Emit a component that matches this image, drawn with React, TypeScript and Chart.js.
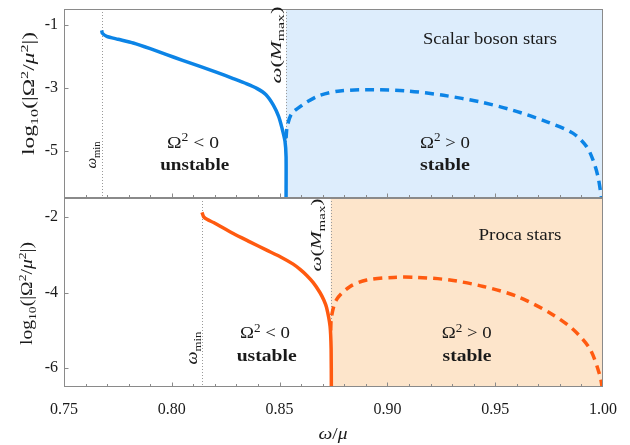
import React, { useEffect, useRef } from "react";
import { Chart, registerables } from "chart.js";

Chart.register(...registerables);

const FONT = "'Liberation Serif', 'DejaVu Serif', serif";

// axes
const xRange = [0.75, 1.0];
const xTickValues = [0.75, 0.8, 0.85, 0.9, 0.95, 1.0];
const xMinorStep = 0.01;
const topRange = [-6.5, -0.5];
const bottomRange = [-6.5, -1.5];
const topYTicks = [-1, -3, -5];
const bottomYTicks = [-2, -4, -6];

// Scalar boson stars: log10(|Omega^2/mu^2|) vs omega/mu
const scalarUnstableW = [0.7675, 0.7678, 0.7698, 0.775, 0.7821, 0.79, 0.7976, 0.805, 0.8131, 0.8209, 0.8285, 0.8345, 0.8394, 0.8437, 0.8471, 0.8495, 0.851, 0.8525, 0.853, 0.853];
const scalarUnstableLog = [-1.18, -1.27, -1.37, -1.46, -1.58, -1.76, -1.95, -2.13, -2.32, -2.51, -2.71, -2.87, -3.02, -3.22, -3.55, -3.9, -4.25, -4.7, -5.2, -6.5];
const scalarStableW = [0.853, 0.8535, 0.8556, 0.8595, 0.8626, 0.8687, 0.878, 0.8933, 0.909, 0.926, 0.943, 0.958, 0.974, 0.986, 0.9924, 0.9954, 0.9977, 0.9993];
const scalarStableLog = [-4.6, -4.24, -3.82, -3.6, -3.45, -3.24, -3.1, -3.06, -3.1, -3.24, -3.45, -3.71, -4.08, -4.44, -4.87, -5.3, -5.83, -6.5];

// Proca stars
const procaUnstableW = [0.814, 0.8148, 0.8165, 0.8194, 0.8285, 0.8362, 0.844, 0.8505, 0.8563, 0.8595, 0.8626, 0.8656, 0.8687, 0.8705, 0.8718, 0.8734, 0.8739, 0.874];
const procaUnstableLog = [-1.88, -2.0, -2.07, -2.15, -2.44, -2.66, -2.88, -3.06, -3.25, -3.39, -3.55, -3.74, -4.0, -4.2, -4.4, -4.89, -5.5, -6.5];
const procaStableW = [0.8737, 0.8741, 0.8764, 0.8827, 0.8904, 0.9028, 0.9136, 0.929, 0.9445, 0.96, 0.9754, 0.9862, 0.994, 0.9986, 0.9996];
const procaStableLog = [-5.0, -4.63, -4.19, -3.84, -3.67, -3.6, -3.6, -3.67, -3.84, -4.1, -4.54, -4.98, -5.5, -6.2, -6.5];

// markers: [scalar, proca]
const omegaMin = [0.7675, 0.814];
const omegaMmax = [0.853, 0.8737];

const BLUE = "#0c84e6";
const ORANGE = "#ff5a10";
const BLUE_FILL = "#ddedfc";
const ORANGE_FILL = "#fde5cb";
const FRAME = "#8a8a8a";
const TEXT = "#1a1a1a";

const pts = (w: number[], l: number[]) => w.map((x, i) => ({ x, y: l[i] }));

type Part = { t: string; s?: number; dy?: number; it?: boolean; b?: boolean };

function fontOf(p: Part, size: number) {
  return `${p.it ? "italic " : ""}${p.b ? "bold " : ""}${(size * (p.s || 1)).toFixed(2)}px ${FONT}`;
}

function drawRich(
  ctx: CanvasRenderingContext2D,
  parts: Part[],
  x: number,
  y: number,
  size: number,
  width?: number,
  angle = 0
) {
  ctx.save();
  ctx.translate(x, y);
  if (angle) ctx.rotate(angle);
  let total = 0;
  const ws = parts.map((p) => {
    ctx.font = fontOf(p, size);
    const w = ctx.measureText(p.t).width;
    total += w;
    return w;
  });
  const sx = width ? width / total : 1;
  ctx.scale(sx, 1);
  ctx.textBaseline = "alphabetic";
  ctx.textAlign = "left";
  ctx.fillStyle = TEXT;
  let cx = -total / 2;
  parts.forEach((p, i) => {
    ctx.font = fontOf(p, size);
    ctx.fillText(p.t, cx, (p.dy || 0) * size);
    cx += ws[i];
  });
  ctx.restore();
}

const sq: Part = { t: "2", s: 0.7, dy: -0.4 };
const yTitleParts: Part[] = [
  { t: "log" },
  { t: "10", s: 0.7, dy: 0.25 },
  { t: "(|Ω" },
  sq,
  { t: "/" },
  { t: "μ", it: true },
  sq,
  { t: "|)" },
];
const omegaMinParts: Part[] = [{ t: "ω", it: true }, { t: "min", s: 0.7, dy: 0.25 }];
const omegaMmaxParts: Part[] = [
  { t: "ω", it: true },
  { t: "(" },
  { t: "M", it: true },
  { t: "max", s: 0.7, dy: 0.25 },
  { t: ")" },
];
const negParts: Part[] = [{ t: "Ω" }, sq, { t: " < 0" }];
const posParts: Part[] = [{ t: "Ω" }, sq, { t: " > 0" }];
const xTitleParts: Part[] = [{ t: "ω", it: true }, { t: "/" }, { t: "μ", it: true }];

const panelsPlugin = {
  id: "panels",
  beforeDatasetsDraw(chart: any) {
    const { ctx, scales } = chart;
    const x = scales.x;
    const panels = [
      { y: scales.yTop, fill: BLUE_FILL, i: 0 },
      { y: scales.yBot, fill: ORANGE_FILL, i: 1 },
    ];
    ctx.save();
    panels.forEach(({ y, fill, i }) => {
      const x0 = x.getPixelForValue(omegaMmax[i]);
      const x1 = x.getPixelForValue(xRange[1]);
      ctx.fillStyle = fill;
      ctx.fillRect(x0, y.top, x1 - x0, y.bottom - y.top);
      ctx.strokeStyle = "#9a9a9a";
      ctx.lineWidth = 1;
      ctx.setLineDash([1, 2]);
      [omegaMin[i], omegaMmax[i]].forEach((v) => {
        const px = Math.round(x.getPixelForValue(v)) + 0.5;
        ctx.beginPath();
        ctx.moveTo(px, y.top);
        ctx.lineTo(px, y.bottom);
        ctx.stroke();
      });
      ctx.setLineDash([]);
    });
    ctx.restore();
  },
  afterDatasetsDraw(chart: any) {
    const { ctx, scales } = chart;
    const x = scales.x;
    const yT = scales.yTop;
    const yB = scales.yBot;
    ctx.save();
    ctx.strokeStyle = FRAME;
    ctx.lineWidth = 1;
    const L = Math.round(x.left) + 0.5;
    const R = Math.round(x.right) - 0.5;
    [
      [yT, topYTicks],
      [yB, bottomYTicks],
    ].forEach(([ys, yt]: any) => {
      const T = Math.round(ys.top) + 0.5;
      const B = Math.round(ys.bottom) - 0.5;
      ctx.strokeRect(L, T, R - L, B - T);
      // x ticks at panel bottom, inward
      ctx.beginPath();
      const n = Math.round((xRange[1] - xRange[0]) / xMinorStep);
      for (let k = 1; k < n; k++) {
        const v = xRange[0] + k * xMinorStep;
        const px = Math.round(x.getPixelForValue(v)) + 0.5;
        const len = k % 5 === 0 ? 4 : 2.5;
        ctx.moveTo(px, B);
        ctx.lineTo(px, B - len);
      }
      // y ticks
      yt.forEach((v: number) => {
        const py = Math.round(ys.getPixelForValue(v)) + 0.5;
        ctx.moveTo(L, py);
        ctx.lineTo(L + 4, py);
      });
      ctx.stroke();
    });
    ctx.restore();

    // texts
    drawRich(ctx, [{ t: "Scalar boson stars" }], 490, 44, 17, 134);
    drawRich(ctx, [{ t: "Proca stars" }], 520, 239.5, 17, 83);

    drawRich(ctx, negParts, 193, 147.5, 17, 52);
    drawRich(ctx, [{ t: "unstable", b: true }], 194.7, 170, 17, 69);
    drawRich(ctx, posParts, 445, 147.5, 17, 50);
    drawRich(ctx, [{ t: "stable", b: true }], 445, 170, 17, 50);

    drawRich(ctx, negParts, 265, 338.3, 17, 50);
    drawRich(ctx, [{ t: "ustable", b: true }], 266.7, 361, 17, 60);
    drawRich(ctx, posParts, 466.7, 338.3, 17, 50);
    drawRich(ctx, [{ t: "stable", b: true }], 467, 361, 17, 49);

    const up = -Math.PI / 2;
    drawRich(ctx, omegaMinParts, 96, 155, 15, 27, up);
    drawRich(ctx, omegaMinParts, 196.5, 348, 16, 33, up);
    drawRich(ctx, omegaMmaxParts, 280.5, 45, 14, 77, up);
    drawRich(ctx, omegaMmaxParts, 321, 235, 15, 73, up);

    drawRich(ctx, yTitleParts, 34, 93.5, 16, 123, up);
    drawRich(ctx, yTitleParts, 32, 293.5, 16, 103, up);

    drawRich(ctx, xTitleParts, 333, 439, 16, 29);
  },
};

const yScale = (range: number[], ticks: number[]) => ({
  type: "linear" as const,
  position: "left" as const,
  stack: "panels",
  stackWeight: 1,
  min: range[0],
  max: range[1],
  afterBuildTicks: (s: any) => {
    s.ticks = ticks.map((value) => ({ value }));
  },
  afterFit: (s: any) => {
    s.width = 64;
    s.paddingTop = 0;
    s.paddingBottom = 0;
    s.paddingLeft = 0;
    s.paddingRight = 0;
  },
  ticks: {
    font: { family: FONT, size: 16 },
    color: TEXT,
    padding: 6,
    callback: (v: any) => String(v),
  },
  grid: { display: false, drawTicks: false },
  border: { display: false },
});

export default function App() {
  const ref = useRef<HTMLCanvasElement | null>(null);
  useEffect(() => {
    if (!ref.current) return;
    const chart = new Chart(ref.current, {
      type: "line",
      data: {
        datasets: [
          {
            data: pts(scalarUnstableW, scalarUnstableLog),
            yAxisID: "yTop",
            borderColor: BLUE,
            borderWidth: 3.5,
            pointRadius: 0,
            tension: 0.2,
          },
          {
            data: pts(scalarStableW, scalarStableLog),
            yAxisID: "yTop",
            borderColor: BLUE,
            borderWidth: 3.5,
            borderDash: [9, 6],
            pointRadius: 0,
            tension: 0.3,
          },
          {
            data: pts(procaUnstableW, procaUnstableLog),
            yAxisID: "yBot",
            borderColor: ORANGE,
            borderWidth: 3.5,
            pointRadius: 0,
            tension: 0.2,
          },
          {
            data: pts(procaStableW, procaStableLog),
            yAxisID: "yBot",
            borderColor: ORANGE,
            borderWidth: 3.5,
            borderDash: [9, 6],
            pointRadius: 0,
            tension: 0.3,
          },
        ],
      },
      options: {
        responsive: false,
        animation: false,
        devicePixelRatio: 1,
        parsing: false as any,
        layout: { padding: { left: 0, right: 27, top: 9, bottom: 0 } },
        plugins: { legend: { display: false }, tooltip: { enabled: false } },
        elements: { point: { radius: 0 } },
        scales: {
          x: {
            type: "linear",
            min: xRange[0],
            max: xRange[1],
            afterBuildTicks: (s: any) => {
              s.ticks = xTickValues.map((value) => ({ value }));
            },
            afterFit: (s: any) => {
              s.height = 58;
              s.paddingLeft = 0;
              s.paddingRight = 0;
              s.paddingTop = 0;
              s.paddingBottom = 0;
            },
            ticks: {
              font: { family: FONT, size: 16 },
              color: TEXT,
              padding: 13,
              maxRotation: 0,
              autoSkip: false,
              callback: (v: any) => Number(v).toFixed(2),
            },
            grid: { display: false, drawTicks: false },
            border: { display: false },
          },
          yBot: yScale(bottomRange, bottomYTicks),
          yTop: yScale(topRange, topYTicks),
        } as any,
      },
      plugins: [panelsPlugin],
    });
    return () => chart.destroy();
  }, []);
  return (
    <div style={{ position: "fixed", left: 0, top: 0, width: 630, height: 445, background: "#fff" }}>
      <canvas ref={ref} width={630} height={445} style={{ display: "block" }} />
    </div>
  );
}
